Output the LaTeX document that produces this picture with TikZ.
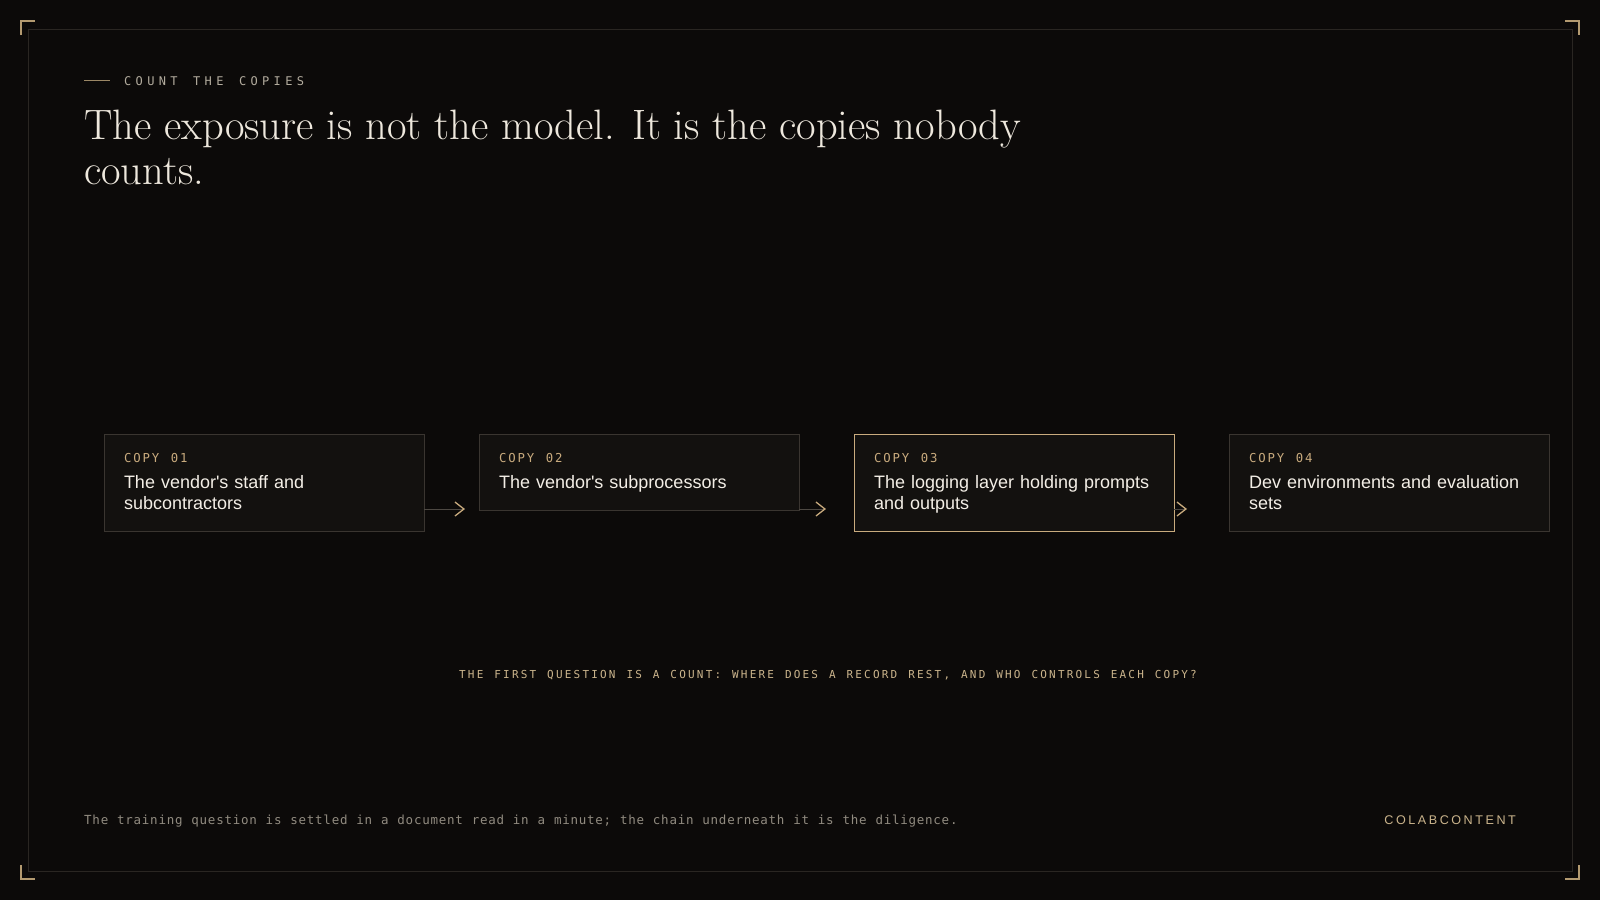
\documentclass[tikz,border=0pt]{standalone}
\usepackage{fontspec}
\usepackage{tikz}
\usetikzlibrary{positioning,arrows.meta}

\setmainfont{Latin Modern Roman}
\newfontfamily\cardsans{Liberation Sans}
\newfontfamily\brandsans[LetterSpace=20]{Liberation Sans}
\newfontfamily\kickmono[LetterSpace=36,WordSpace=1.35]{DejaVu Sans Mono}
\newfontfamily\tagmono[LetterSpace=15]{DejaVu Sans Mono}
\newfontfamily\capmono[LetterSpace=20,WordSpace=1.24]{DejaVu Sans Mono}
\newfontfamily\footmono[LetterSpace=6,WordSpace=1.07]{DejaVu Sans Mono}

\definecolor{bg}{HTML}{0C0A09}
\definecolor{frameline}{HTML}{2A2622}
\definecolor{corner}{HTML}{B39A70}
\definecolor{kickrule}{HTML}{9C8866}
\definecolor{kicktext}{HTML}{B3AC9E}
\definecolor{titleink}{HTML}{EEE8DD}
\definecolor{cardfill}{HTML}{13110F}
\definecolor{cardline}{HTML}{3A3530}
\definecolor{gold}{HTML}{C9AB7E}
\definecolor{ink}{HTML}{F3EEE6}
\definecolor{arrowline}{HTML}{4D4842}
\definecolor{capgold}{HTML}{CBB48C}
\definecolor{foot}{HTML}{918B80}

% label on top of each card, and the depth under its last line
\newcommand\copytag[1]{{\tagmono\fontsize{12.3}{14}\selectfont\spaceskip=11.8pt\relax\color{gold}\rule{0pt}{28pt}#1}}
\newcommand\cardend{\rule[-22pt]{0pt}{22pt}}

\begin{document}
\begin{tikzpicture}[x=1pt,y=-1pt,
    card/.style={draw=cardline,fill=cardfill,text=ink,line width=1pt,inner xsep=20pt,inner ysep=0pt,outer sep=0pt,
        text width=280pt,align=left,font={\cardsans\fontsize{18}{21}\selectfont}},
    flow/.style={draw=arrowline,line width=1pt,-{Straight Barb[length=9pt,width=14pt,color=gold,line width=1.3pt]}},
    corner/.style={draw=corner,line width=1.2pt}]
    \fill[bg] (0,0) rectangle (1600,900);
    \draw[frameline,line width=1pt] (28,29) rectangle (1572,871);
    \draw[corner] (21,35) -- (21,21) -- (35,21);
    \draw[corner] (1565,21) -- (1579,21) -- (1579,35);
    \draw[corner] (21,865) -- (21,879) -- (35,879);
    \draw[corner] (1565,879) -- (1579,879) -- (1579,865);

    % heading
    \coordinate (kick0) at (84,80);
    \node[anchor=base west,inner sep=0pt,text=kicktext,font={\kickmono\fontsize{12}{14}\selectfont}] (kick) at (124,85) {COUNT THE COPIES};
    \draw[kickrule,line width=1pt] (kick0) -- ++(26,0);
    \node[anchor=north west,inner sep=0pt,align=left,text=titleink,font={\fontsize{42.5}{45}\selectfont}] (title) at (84,110)
        {The exposure is not the model. It is the copies nobody\\counts.};

    % the four copies
    \node[card] (c1) [anchor=north west] at (104,434) {\copytag{COPY 01}\\[5pt]The vendor's staff and subcontractors\cardend};
    \node[card] (c2) [below right=0pt and 55pt of c1.north east] {\copytag{COPY 02}\\[5pt]The vendor's subprocessors\cardend};
    \node[card] (c3) [draw=gold,below right=0pt and 55pt of c2.north east] {\copytag{COPY 03}\\[5pt]The logging layer holding prompts and outputs\cardend};
    \node[card] (c4) [below right=0pt and 55pt of c3.north east] {\copytag{COPY 04}\\[5pt]Dev environments and evaluation sets\cardend};

    \coordinate (t1) at (465,509);
    \coordinate (t2) at (826,509);
    \coordinate (t3) at (1187,509);
    \path
    (c1.east |- t1) edge[flow] (t1)
    (c2.east |- t2) edge[flow] (t2)
    (c3.east |- t3) edge[flow] (t3);

    \node[anchor=base,inner sep=0pt,text=capgold,font={\capmono\fontsize{11}{13}\selectfont}] (question) at (828,678)
        {THE FIRST QUESTION IS A COUNT: WHERE DOES A RECORD REST, AND WHO CONTROLS EACH COPY?};

    % footer
    \node[anchor=base west,inner sep=0pt,text=foot,font={\footmono\fontsize{12.5}{14}\selectfont}] (note) at (84,824)
        {The training question is settled in a document read in a minute; the chain underneath it is the diligence.};
    \node[anchor=base east,inner sep=0pt,text=capgold,font={\brandsans\fontsize{12.6}{14}\selectfont}] (brand) at (1516,824) {COLABCONTENT};
\end{tikzpicture}
\end{document}
